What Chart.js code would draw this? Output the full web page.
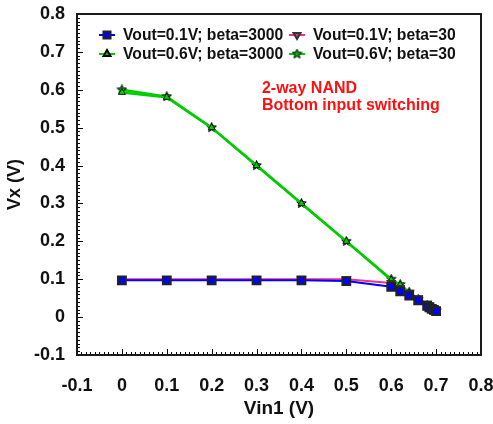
<!DOCTYPE html>
<html>
<head>
<meta charset="utf-8">
<script src="https://cdn.jsdelivr.net/npm/chart.js@4"></script>
<style>
  body { margin: 0; background: #fff; }
  #wrap { width: 493px; height: 424px; }
</style>
</head>
<body>
<div id="wrap"><canvas id="vxChart" width="493" height="424"></canvas></div>
<script>
// Vin1 sweep points (V)
const vin1 = [0, 0.1, 0.2, 0.3, 0.4, 0.5, 0.6, 0.62, 0.64, 0.66, 0.68, 0.685, 0.69, 0.695, 0.7];
// Vx (V) for each case
const vx01b3000 = [0.097, 0.097, 0.097, 0.097, 0.097, 0.095, 0.08, 0.068, 0.057, 0.044, 0.03, 0.026, 0.022, 0.019, 0.016];
const vx01b30 = [0.1, 0.1, 0.1, 0.1, 0.1, 0.1, 0.09, 0.077, 0.064, 0.05, 0.035, 0.03, 0.026, 0.022, 0.019];
const vx06b3000 = [0.593, 0.58, 0.5, 0.4, 0.3, 0.2, 0.098, 0.085, 0.064, 0.045, 0.028, 0.024, 0.021, 0.018, 0.016];
const vx06b30 = [0.6, 0.582, 0.5, 0.4, 0.3, 0.2, 0.1, 0.086, 0.066, 0.047, 0.03, 0.026, 0.022, 0.019, 0.017];
const xTicks = [-0.1, 0, 0.1, 0.2, 0.3, 0.4, 0.5, 0.6, 0.7, 0.8];
const yTicks = [-0.1, 0, 0.1, 0.2, 0.3, 0.4, 0.5, 0.6, 0.7, 0.8];
const noteLines = ['2-way NAND', 'Bottom input switching'];

const FONT = "'Liberation Sans', Arial, sans-serif";

// filled five point star for the beta=30 / 0.6V series
function makeStar() {
    const c = document.createElement('canvas');
    c.width = 11; c.height = 11;
    const g = c.getContext('2d');
    g.beginPath();
    for (let i = 0; i < 10; i++) {
        const r = i % 2 === 0 ? 5 : 2.2;
        const a = -Math.PI / 2 + i * Math.PI / 5;
        g.lineTo(5.5 + r * Math.cos(a), 5.5 + r * Math.sin(a));
    }
    g.closePath();
    g.fillStyle = '#00b000';
    g.fill();
    g.strokeStyle = '#000';
    g.lineWidth = 1;
    g.stroke();
    return c;
}
const starImg = makeStar();

function pts(ys) {
    return vin1.map((x, i) => ({ x: x, y: ys[i] }));
}

const datasets = [
    {
        label: 'Vout=0.1V; beta=3000',
        data: pts(vx01b3000),
        borderColor: '#0000ff',
        backgroundColor: '#0000ff',
        pointBorderColor: '#222',
        pointStyle: 'rect',
        pointRadius: 5.5,
        borderWidth: 2
    },
    {
        label: 'Vout=0.1V; beta=30',
        data: pts(vx01b30),
        borderColor: '#e8338c',
        backgroundColor: '#e8338c',
        pointBorderColor: '#333',
        pointStyle: 'triangle',
        rotation: 180,
        pointRadius: 4,
        borderWidth: 2
    },
    {
        label: 'Vout=0.6V; beta=3000',
        data: pts(vx06b3000),
        borderColor: '#00cc00',
        backgroundColor: '#00cc00',
        pointBorderColor: '#000',
        pointBorderWidth: 0.8,
        pointStyle: 'triangle',
        pointRadius: 4,
        borderWidth: 2.5
    },
    {
        label: 'Vout=0.6V; beta=30',
        data: pts(vx06b30),
        borderColor: '#00cc00',
        backgroundColor: '#00b000',
        pointStyle: starImg,
        pointRadius: 5,
        borderWidth: 2.5
    }
];

// inside minor/major ticks, plot box, legend and note
const framePlugin = {
    id: 'frame',
    afterDatasetsDraw(chart) {
        const ctx = chart.ctx;
        const xs = chart.scales.x, ys = chart.scales.y;
        const left = xs.left, right = xs.right, top = ys.top, bottom = ys.bottom;
        ctx.save();
        ctx.fillStyle = '#000';
        for (let i = 0; i <= 90; i++) {
            const v = -0.1 + i * 0.01;
            const len = i % 10 === 0 ? 6 : 3;
            ctx.fillRect(left, Math.round(ys.getPixelForValue(v)), len, 1);
            ctx.fillRect(Math.round(xs.getPixelForValue(v)), bottom - len, 1, len);
        }
        // plot box drawn as short segments
        ctx.fillStyle = '#1a1a1a';
        for (let x = left - 1; x < right + 1; x += 4) {
            const w = Math.min(4, right + 1 - x);
            ctx.fillRect(x, top - 1, w, 2);
            ctx.fillRect(x, bottom - 1, w, 2);
        }
        for (let y = top - 1; y < bottom + 1; y += 4) {
            const h = Math.min(4, bottom + 1 - y);
            ctx.fillRect(left - 1, y, 2, h);
            ctx.fillRect(right - 1, y, 2, h);
        }

        // legend, two columns inside the plot
        ctx.font = 'bold 15.7px ' + FONT;
        ctx.textBaseline = 'middle';
        ctx.textAlign = 'left';
        const cols = [107, 297];
        const rows = [35, 54];
        [0, 1, 2, 3].forEach((di, k) => {
            const ds = chart.data.datasets[di];
            const cx = cols[k % 2];
            const cy = rows[Math.floor(k / 2)];
            ctx.strokeStyle = ds.borderColor;
            ctx.lineWidth = 2;
            ctx.beginPath();
            ctx.moveTo(cx - 8, cy); ctx.lineTo(cx + 8, cy);
            ctx.stroke();
            const opts = chart.getDatasetMeta(di).data[0].options;
            ctx.fillStyle = opts.backgroundColor;
            ctx.strokeStyle = opts.borderColor;
            Chart.helpers.drawPoint(ctx, {
                pointStyle: opts.pointStyle,
                rotation: opts.rotation,
                radius: opts.pointStyle === 'rect' ? 5 : 4,
                borderWidth: 1
            }, cx, cy);
            ctx.fillStyle = '#111';
            ctx.fillText(ds.label, cx + 16, cy + 1);
        });

        // note text placed on the data scales
        ctx.fillStyle = '#ff1010';
        ctx.font = 'bold 16px ' + FONT;
        const nx = xs.getPixelForValue(0.312);
        const ny = ys.getPixelForValue(0.603);
        noteLines.forEach((t, i) => ctx.fillText(t, nx, ny + i * 17));
        ctx.restore();
    }
};

const noGrid = { display: false, drawTicks: false };

new Chart(document.getElementById('vxChart').getContext('2d'), {
    type: 'line',
    data: { datasets: datasets },
    options: {
        responsive: false,
        animation: false,
        layout: { padding: { left: 0, top: 14, right: 12, bottom: 0 } },
        plugins: {
            legend: { display: false },
            tooltip: { enabled: false }
        },
        scales: {
            x: {
                type: 'linear',
                min: -0.1,
                max: 0.8,
                afterBuildTicks: s => { s.ticks = xTicks.map(v => ({ value: v })); },
                afterFit: s => { s.height = 69; s.paddingLeft = 0; s.paddingRight = 0; },
                grid: noGrid,
                border: { display: false },
                ticks: {
                    padding: 20,
                    color: '#111',
                    font: { family: FONT, size: 18, weight: 'bold' },
                    maxRotation: 0,
                    callback: v => String(Math.round(v * 10) / 10)
                },
                title: {
                    display: true,
                    text: 'Vin1 (V)',
                    color: '#111',
                    font: { family: FONT, size: 19, weight: 'bold' },
                    padding: { top: 4 }
                }
            },
            y: {
                type: 'linear',
                min: -0.1,
                max: 0.8,
                afterBuildTicks: s => { s.ticks = yTicks.map(v => ({ value: v })); },
                afterFit: s => { s.width = 77; s.paddingTop = 0; s.paddingBottom = 0; },
                grid: noGrid,
                border: { display: false },
                ticks: {
                    padding: 12,
                    color: '#111',
                    font: { family: FONT, size: 18, weight: 'bold' },
                    callback: v => String(Math.round(v * 10) / 10)
                },
                title: {
                    display: true,
                    text: 'Vx (V)',
                    color: '#111',
                    font: { family: FONT, size: 18, weight: 'bold' },
                    padding: { bottom: 0 }
                }
            }
        }
    },
    plugins: [framePlugin]
});
</script>
</body>
</html>
